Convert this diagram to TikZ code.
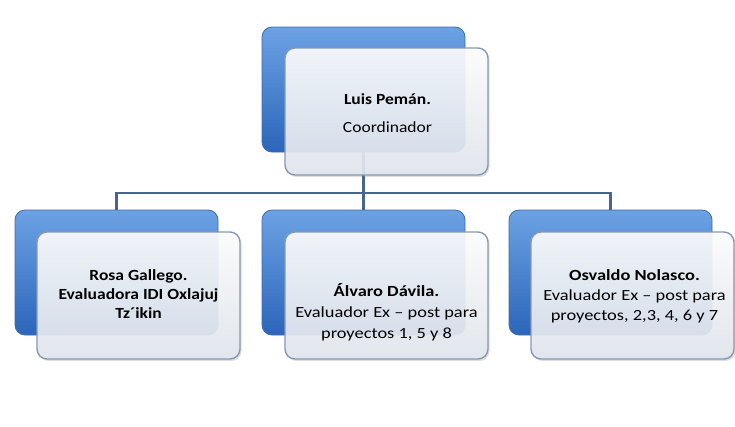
\documentclass[tikz,border=0pt]{standalone}
\usepackage{fontspec}
\setmainfont{Carlito}[FakeStretch=1.13]
\usetikzlibrary{shadows,calc}
\definecolor{bluetop}{HTML}{6CA2E4}
\definecolor{bluebot}{HTML}{2C65BA}
\definecolor{blueedge}{HTML}{3D6CB0}
\definecolor{whiteedge}{HTML}{8598B5}
\definecolor{whitebot}{HTML}{E2E7EE}
\definecolor{conncol}{HTML}{46658F}
\tikzset{
  bluebox/.style={draw=blueedge, line width=0.8pt, rounded corners=10pt,
    top color=bluetop, bottom color=bluebot, minimum width=203pt,
    minimum height=125pt, inner sep=0pt, outer sep=0pt, anchor=north west},
  whitebox/.style={draw=whiteedge, line width=1.4pt, rounded corners=10pt,
    top color=white, bottom color=whitebot, fill opacity=0.9,
    minimum width=203pt, minimum height=127pt, inner sep=0pt, outer sep=0pt,
    anchor=north west,
    drop shadow={opacity=0.25, shadow xshift=1.5pt, shadow yshift=-2pt}},
  txt/.style={align=center, text=black, inner sep=0pt},
  widetxt/.style={txt, xscale=1.05, transform shape},
  conn/.style={draw=conncol, line width=2.2pt}
}
\begin{document}
\begin{tikzpicture}[x=1pt, y=-1pt]
\useasboundingbox (0,0) rectangle (735,426);
\fill[white] (0,0) rectangle (735,426);
% blue back boxes
\node[bluebox] (b0) at (262,27) {};
\node[bluebox] (b1) at (15,210) {};
\node[bluebox] (b2) at (262,210) {};
\node[bluebox] (b3) at (509,210) {};
% connectors
\coordinate (bus) at (0,193);
\draw[conn] (b0.south) -- (b0.south |- bus);
\draw[conn] (b0.south |- bus) -| (b1.north);
\draw[conn] (b0.south |- bus) -- (b2.north);
\draw[conn] (b0.south |- bus) -| (b3.north);
% front boxes
\node[whitebox] (w0) at (285,48) {};
\node[whitebox] (w1) at (37,232) {};
\node[whitebox] (w2) at (285,232) {};
\node[whitebox] (w3) at (531,232) {};
% texts
\node[txt, font=\fontsize{15.5}{28}\selectfont] (t0) at ($(w0.center)+(1,2)$)
  {\textbf{Luis Pemán.}\\Coordinador};
\node[txt, font=\bfseries\fontsize{15.5}{19}\selectfont] (t1) at ($(w1.center)+(0,-1)$)
  {Rosa Gallego.\\Evaluadora IDI Oxlajuj\\Tz´ikin};
\node[widetxt, font=\fontsize{15.5}{21}\selectfont] (t2) at ($(w2.center)+(0,17)$)
  {\textbf{Álvaro Dávila.}\\Evaluador Ex – post para\\proyectos 1, 5 y 8};
\node[widetxt, font=\fontsize{15.5}{20}\selectfont] (t3) at ($(w3.center)+(2,1)$)
  {\textbf{Osvaldo Nolasco.}\\Evaluador Ex – post para\\proyectos, 2,3, 4, 6 y 7};
\end{tikzpicture}
\end{document}
